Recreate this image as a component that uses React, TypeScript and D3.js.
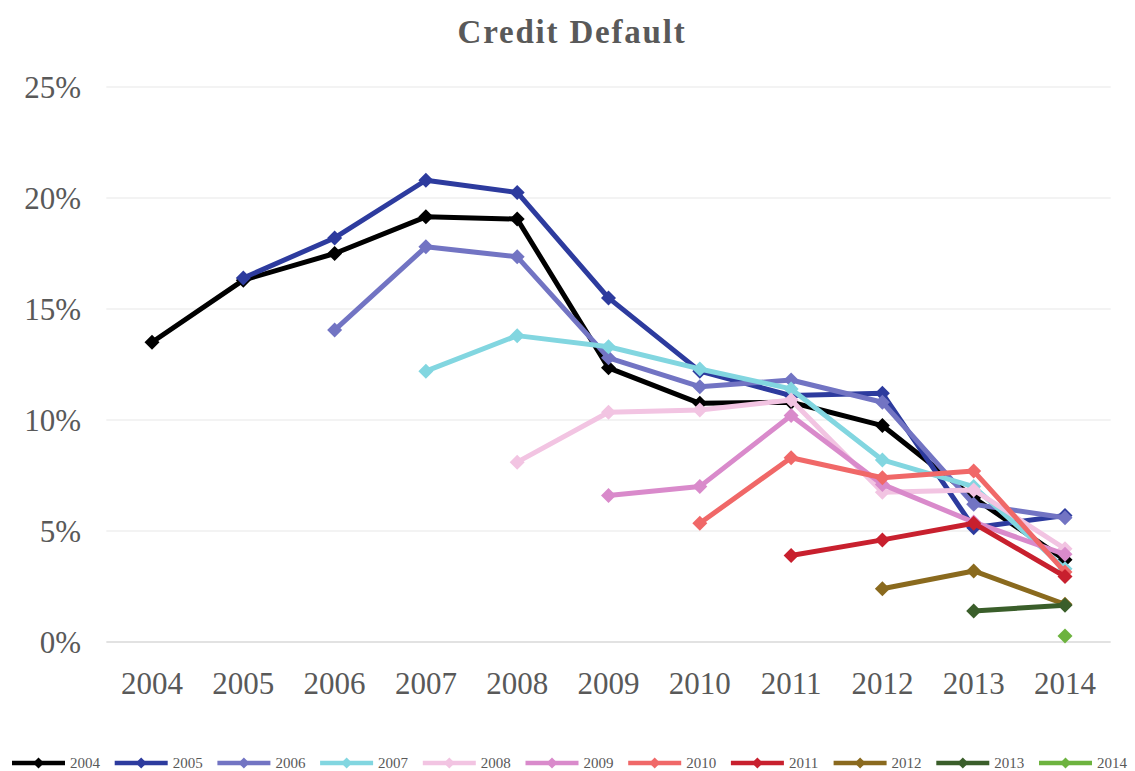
import React from "react";
import * as d3 from "d3";

const years = ["2004", "2005", "2006", "2007", "2008", "2009", "2010", "2011", "2012", "2013", "2014"];
const yTicks = [0, 5, 10, 15, 20, 25];

// each cohort series: values from its start year through 2014
const s2004 = [13.5, 16.3, 17.5, 19.15, 19.05, 12.35, 10.75, 10.8, 9.75, 6.5, 3.7];
const s2005 = [16.4, 18.2, 20.8, 20.25, 15.5, 12.2, 11.1, 11.2, 5.15, 5.7];
const s2006 = [14.05, 17.8, 17.35, 12.8, 11.5, 11.8, 10.8, 6.2, 5.6];
const s2007 = [12.2, 13.8, 13.3, 12.3, 11.4, 8.2, 7.0, 3.3];
const s2008 = [8.1, 10.35, 10.45, 10.9, 6.75, 6.85, 4.2];
const s2009 = [6.6, 7.0, 10.2, 7.1, 5.4, 3.95];
const s2010 = [5.35, 8.3, 7.4, 7.7, 3.15];
const s2011 = [3.9, 4.6, 5.35, 2.95];
const s2012 = [2.4, 3.2, 1.7];
const s2013 = [1.4, 1.65];
const s2014 = [0.27];

const seriesNames = ["2004", "2005", "2006", "2007", "2008", "2009", "2010", "2011", "2012", "2013", "2014"];
const seriesValues = [s2004, s2005, s2006, s2007, s2008, s2009, s2010, s2011, s2012, s2013, s2014];
const seriesColors = [
  "#000000", "#2D3B9E", "#7274C3", "#82D6E0", "#F2C4E2", "#D98ACB",
  "#F06868", "#C8202E", "#8A6A1E", "#3A5E2A", "#6DB33F",
];

const W = 1135;
const H = 771;
const FONT = "'Liberation Serif', 'Times New Roman', serif";
const GRAY = "#595959";

export default function App() {
  const x = d3.scalePoint<string>().domain(years).range([152, 1065]);
  const y = d3.scaleLinear().domain([0, 25]).range([642, 87]);
  const step = x.step();
  const left = (x(years[0]) as number) - step / 2;
  const right = (x(years[years.length - 1]) as number) + step / 2;

  const line = d3
    .line<[string, number]>()
    .x((d) => x(d[0]) as number)
    .y((d) => y(d[1]));

  const diamond = (cx: number, cy: number, r: number) =>
    `M${cx},${cy - r}L${cx + r},${cy}L${cx},${cy + r}L${cx - r},${cy}Z`;

  const series = seriesNames.map((name, i) => {
    const start = years.indexOf(name);
    const pts: [string, number][] = seriesValues[i].map((v, j) => [years[start + j], v]);
    return { name, color: seriesColors[i], pts };
  });

  return (
    <svg width={W} height={H} style={{ position: "absolute", left: 0, top: 0, background: "#fff" }}>
      <rect width={W} height={H} fill="#fff" />
      <text x={572} y={43} textAnchor="middle" fontFamily={FONT} fontWeight="bold" fontSize={33} fill={GRAY} letterSpacing={1.8}>
        Credit Default
      </text>
      {yTicks.map((t) => (
        <g key={t}>
          <line x1={left} x2={right} y1={y(t)} y2={y(t)} stroke={t === 0 ? "#d9d9d9" : "#efefef"} strokeWidth={1.3} />
          <text x={81} y={y(t) + 11} textAnchor="end" fontFamily={FONT} fontSize={31} fill={GRAY}>
            {t}%
          </text>
        </g>
      ))}
      {years.map((yr) => (
        <text key={yr} x={x(yr) as number} y={694} textAnchor="middle" fontFamily={FONT} fontSize={31} fill={GRAY}>
          {yr}
        </text>
      ))}
      {series.map((s) => (
        <g key={s.name}>
          {s.pts.length > 1 && (
            <path d={line(s.pts) as string} fill="none" stroke={s.color} strokeWidth={5} strokeLinejoin="round" />
          )}
          {s.pts.map((p) => (
            <path key={p[0]} d={diamond(x(p[0]) as number, y(p[1]), 7.5)} fill={s.color} />
          ))}
        </g>
      ))}
      {series.map((s, i) => {
        const tx = 70 + i * 102.7;
        const ly = 763;
        return (
          <g key={"lg" + s.name}>
            <line x1={tx - 58} x2={tx - 5} y1={ly} y2={ly} stroke={s.color} strokeWidth={4.5} />
            <path d={diamond(tx - 31.5, ly, 5.5)} fill={s.color} />
            <text x={tx} y={ly + 5} fontFamily={FONT} fontSize={15} fill={GRAY}>
              {s.name}
            </text>
          </g>
        );
      })}
    </svg>
  );
}
